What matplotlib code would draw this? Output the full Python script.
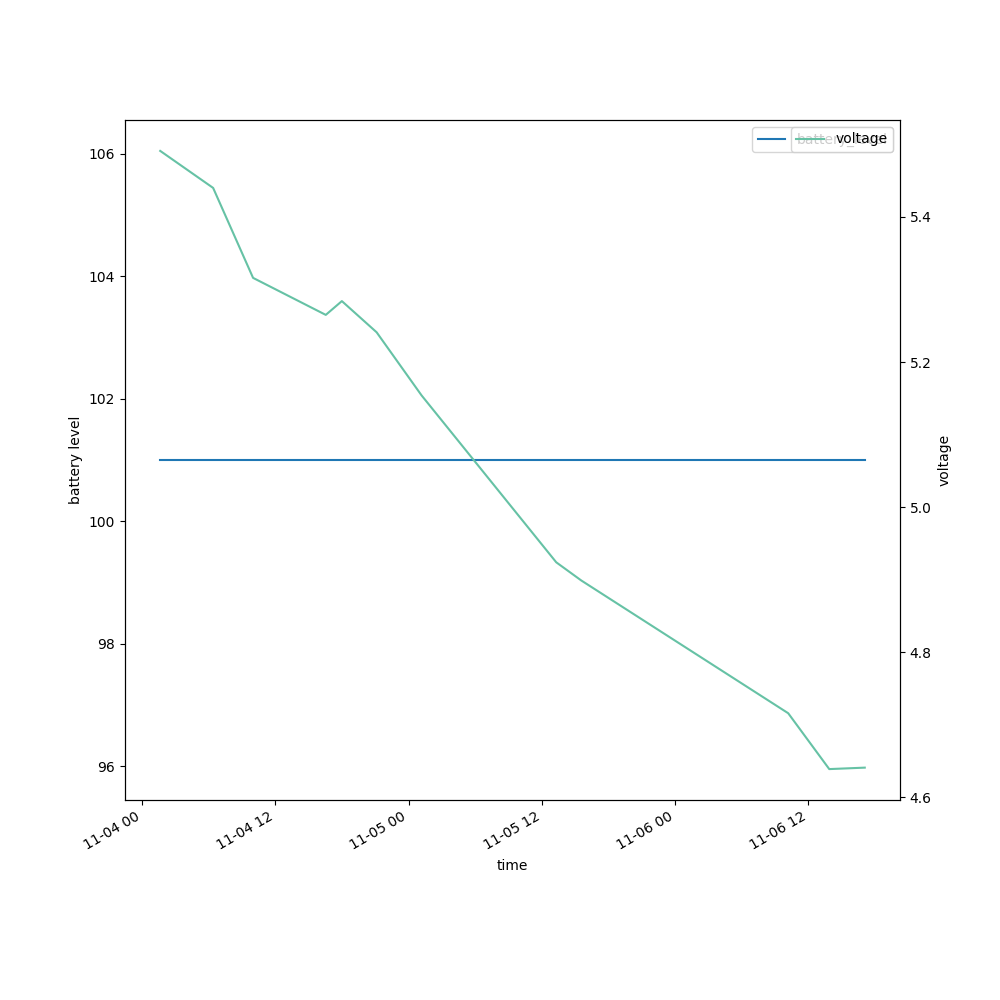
import pandas as pd
import matplotlib
matplotlib.use('Agg')
import matplotlib.pyplot as plt

# battery readings (constant level)
battery_times = ['2023-11-04 01:37', '2023-11-06 17:06']
battery_level = [101, 101]

# voltage readings
voltage_times = [
    '2023-11-04 01:37', '2023-11-04 06:23', '2023-11-04 09:59',
    '2023-11-04 16:32', '2023-11-04 17:59', '2023-11-04 21:07',
    '2023-11-05 01:10', '2023-11-05 13:18', '2023-11-05 15:33',
    '2023-11-06 10:12', '2023-11-06 13:54', '2023-11-06 17:06',
]
voltage = [5.491, 5.440, 5.316, 5.265, 5.284, 5.241,
           5.154, 4.924, 4.899, 4.716, 4.639, 4.641]

bt = pd.to_datetime(battery_times)
vt = pd.to_datetime(voltage_times)

fig, ax1 = plt.subplots(figsize=(10, 10))
ax1.plot(bt, battery_level, color='tab:blue', label='battery_level')
ax1.set_xlabel('time')
ax1.set_ylabel('battery level')
ax1.legend(loc='upper right')

ax2 = ax1.twinx()
ax2.plot(vt, voltage, color='#66c2a5', label='voltage')
ax2.set_ylabel('voltage')
ax2.legend(loc='upper right')

fig.autofmt_xdate()
plt.savefig('out.png')
